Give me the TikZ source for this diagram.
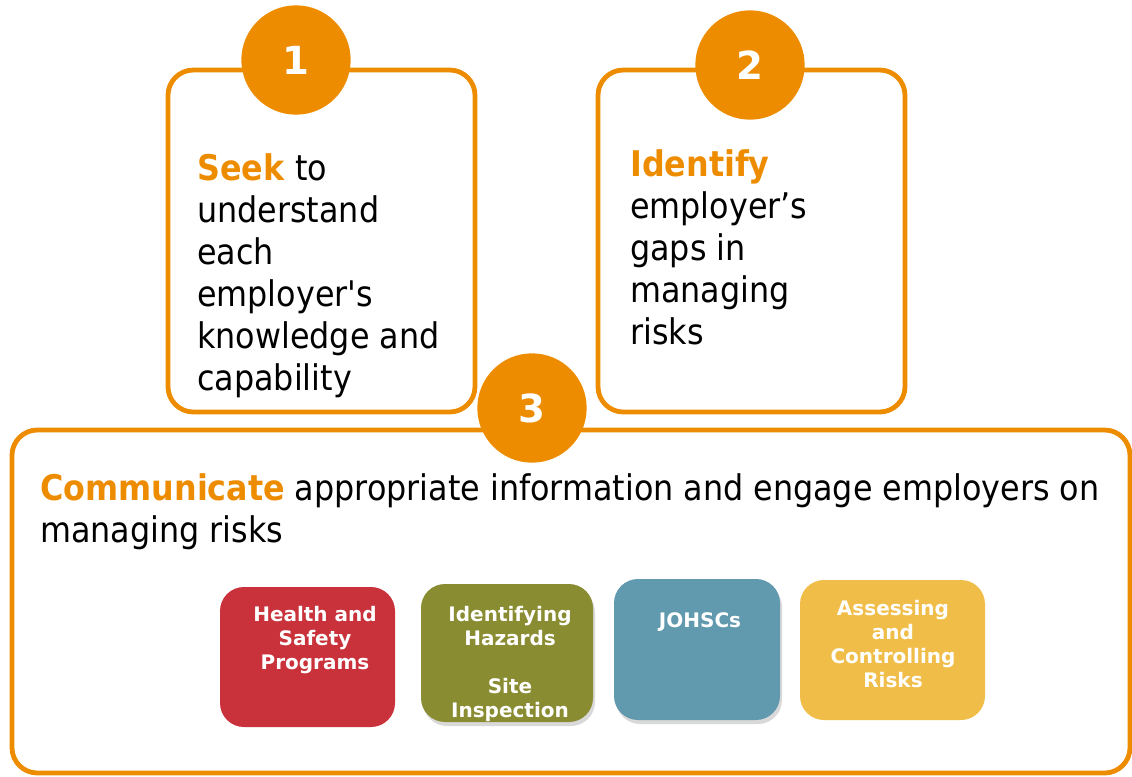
\documentclass[tikz,border=0pt]{standalone}
\usepackage{fontspec}
\setmainfont{DejaVu Sans Condensed}[Ligatures=TeXOff]
\newfontfamily\topicfont{DejaVu Sans}
\usetikzlibrary{positioning,shadows}

\definecolor{wsorange}{HTML}{EE8C00}
\definecolor{wsred}{HTML}{C9323A}
\definecolor{wsolive}{HTML}{8A8C32}
\definecolor{wsblue}{HTML}{6199AE}
\definecolor{wsyellow}{HTML}{F0BE48}

\begin{document}
\begin{tikzpicture}[x=0.75pt, y=-0.75pt,
	stepframe/.style={draw=wsorange, line width=3.6pt, rounded corners=19pt, inner sep=0},
	badge/.style={circle, fill=wsorange, minimum size=82pt, inner sep=0, text=white,
		font=\topicfont\fontsize{29}{29}\selectfont\bfseries},
	bodytext/.style={anchor=north west, inner sep=0, align=left,
		font=\fontsize{26.5}{31.5}\selectfont},
	topic/.style={rounded corners=18pt, inner sep=0},
	topictext/.style={anchor=north, inner sep=0, align=center, text=white,
		font=\topicfont\fontsize{15}{18}\selectfont\bfseries},
	shadowed/.style={drop shadow={opacity=0.3, shadow xshift=1.5pt, shadow yshift=-3pt}}]
	\useasboundingbox (0,0) rectangle (1132,776);

	% step frames
	\node[stepframe, minimum width=230.25pt, minimum height=256.5pt] (frame1) at (321.5,241) {};
	\node[stepframe, minimum width=230.25pt, minimum height=256.5pt] (frame2) at (751.5,241) {};
	\node[stepframe, minimum width=838.5pt, minimum height=257.25pt] (frame3) at (571,601.5) {};

	% numbered badges
	\node[badge] (badge1) at (296,60)  {1};
	\node[badge] (badge2) at (750,65)  {2};
	\node[badge] (badge3) at (532,408) {3};

	% step texts
	\node[bodytext] (text1) at (197,153) {\textcolor{wsorange}{\textbf{Seek}} to\\understand\\each\\employer's\\knowledge and\\capability};
	\node[bodytext] (text2) at (630,149) {\textcolor{wsorange}{\textbf{Identify}}\\employer’s\\gaps in\\managing\\risks};
	\node[bodytext] (text3) at (40,473) {\textcolor{wsorange}{\textbf{Communicate}} appropriate information and engage employers on\\managing risks};

	% topic boxes
	\node[topic, fill=wsred, minimum width=131.25pt, minimum height=105pt] (programs) at (307.5,657) {};
	\node[topic, fill=wsolive, shadowed, minimum width=129pt, minimum height=103.5pt] (hazards) at (507,653) {};
	\node[topic, fill=wsblue, shadowed, minimum width=124.5pt, minimum height=105.75pt] (johsc) at (697,649.5) {};
	\node[topic, fill=wsyellow, minimum width=138.75pt, minimum height=105pt] (risks) at (892.5,650) {};

	\node[topictext] (programs text) at (315,606) {Health and\\Safety\\Programs};
	\node[topictext] (hazards text) at (510,606) {Identifying\\Hazards\\[18pt]Site\\Inspection};
	\node[topictext] (johsc text) at (700,612) {JOHSCs};
	\node[topictext] (risks text) at (893,600) {Assessing\\and\\Controlling\\Risks};
\end{tikzpicture}
\end{document}
